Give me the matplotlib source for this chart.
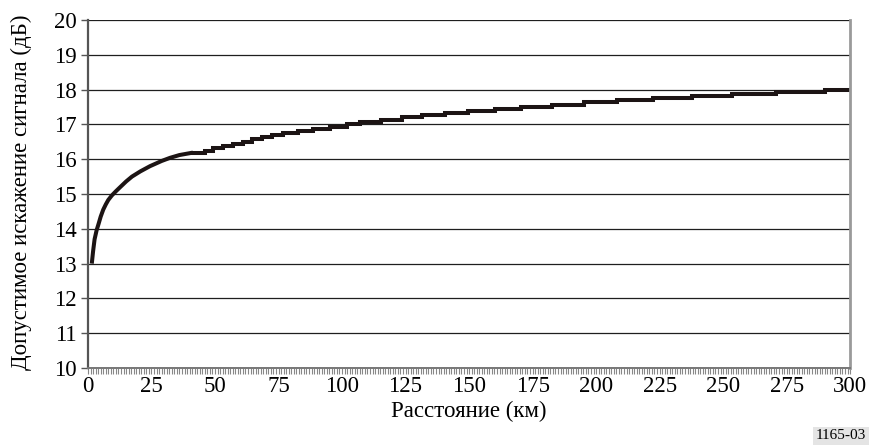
"""
Allowable signal distortion versus distance (ITU-style figure 1165-03).
"""
import matplotlib

matplotlib.use("Agg")
import matplotlib.pyplot as plt  # noqa: E402
from matplotlib.ticker import MultipleLocator  # noqa: E402

# Short range: the curve rises quickly, read as a smooth polyline
near_km = [1.5, 2.0, 2.6, 3.4, 4.2, 5.0, 6.0, 7.0, 8.0, 9.4, 11.0, 12.7,
           15.0, 17.3, 20.6, 24.4, 29.0, 32.3, 36.0, 41.3]
near_db = [13.00, 13.35, 13.70, 13.96, 14.15, 14.35, 14.55, 14.70, 14.83,
           14.96, 15.08, 15.20, 15.36, 15.50, 15.65, 15.80, 15.95, 16.04,
           16.12, 16.19]

# Longer range: the plotted curve is quantised into small steps
step_km = [41.3, 46.0, 49.2, 53.1, 57.1, 61.0, 64.6, 68.5, 72.4, 76.8,
           82.7, 88.6, 95.3, 102.0, 107.0, 115.4, 123.6, 131.5, 140.6, 149.6,
           160.2, 170.5, 182.7, 195.3, 208.3, 222.4, 237.8, 253.5, 271.0,
           290.0, 300.0]
step_db = [16.19, 16.25, 16.32, 16.38, 16.44, 16.50, 16.57, 16.63,
           16.69, 16.75, 16.82, 16.88, 16.94, 17.00, 17.06, 17.13, 17.20,
           17.27, 17.33, 17.39, 17.45, 17.51, 17.57, 17.63, 17.69, 17.75,
           17.81, 17.87, 17.94, 18.00, 18.00]

x_ticks = [0, 25, 50, 75, 100, 125, 150, 175, 200, 225, 250, 275, 300]
y_ticks = [10, 11, 12, 13, 14, 15, 16, 17, 18, 19, 20]

plt.rcParams["font.family"] = ["Liberation Serif", "DejaVu Serif"]
FS = 16.5

fig = plt.figure(figsize=(8.72, 4.45), dpi=100)
ax = fig.add_axes([0.1009, 0.173, 0.874, 0.782])

ax.set_xlim(0, 300)
ax.set_ylim(10, 20)
ax.set_xticks(x_ticks)
ax.set_yticks(y_ticks)
ax.xaxis.set_minor_locator(MultipleLocator(1))

ax.grid(True, axis="y", color="#1e1e1e", lw=0.9)
ax.set_axisbelow(True)

line_color = "#1c1414"
ax.plot(near_km, near_db, color=line_color, lw=2.9, solid_capstyle="butt",
        solid_joinstyle="round")
ax.plot(step_km, step_db, color=line_color, lw=2.9, drawstyle="steps-post",
        solid_joinstyle="miter")

ax.spines["top"].set_visible(False)
ax.spines["left"].set_color("#555555")
ax.spines["left"].set_linewidth(1.6)
ax.spines["bottom"].set_color("#777777")
ax.spines["bottom"].set_linewidth(1.4)
ax.spines["right"].set_color("#9a9a9a")
ax.spines["right"].set_linewidth(2.0)

ax.tick_params(axis="y", direction="out", length=5, width=1.0,
               color="#555555", labelsize=FS, pad=3)
ax.tick_params(axis="x", which="both", direction="out", length=4, width=0.8,
               color="#888888", labelsize=FS, pad=2)

ax.set_xlabel("Расстояние (км)", fontsize=FS, va="center")
ax.xaxis.set_label_coords(0.5, -0.125)
ax.set_ylabel("Допустимое искажение сигнала (дБ)", fontsize=FS, va="center")
ax.yaxis.set_label_coords(-0.087, 0.505)

fig.text(0.993, 0.006, "1165-03", ha="right", va="bottom", fontsize=11,
         bbox=dict(facecolor="#e4e4e4", edgecolor="none", pad=2.0))

fig.savefig("out.png", dpi=100)
plt.close(fig)
